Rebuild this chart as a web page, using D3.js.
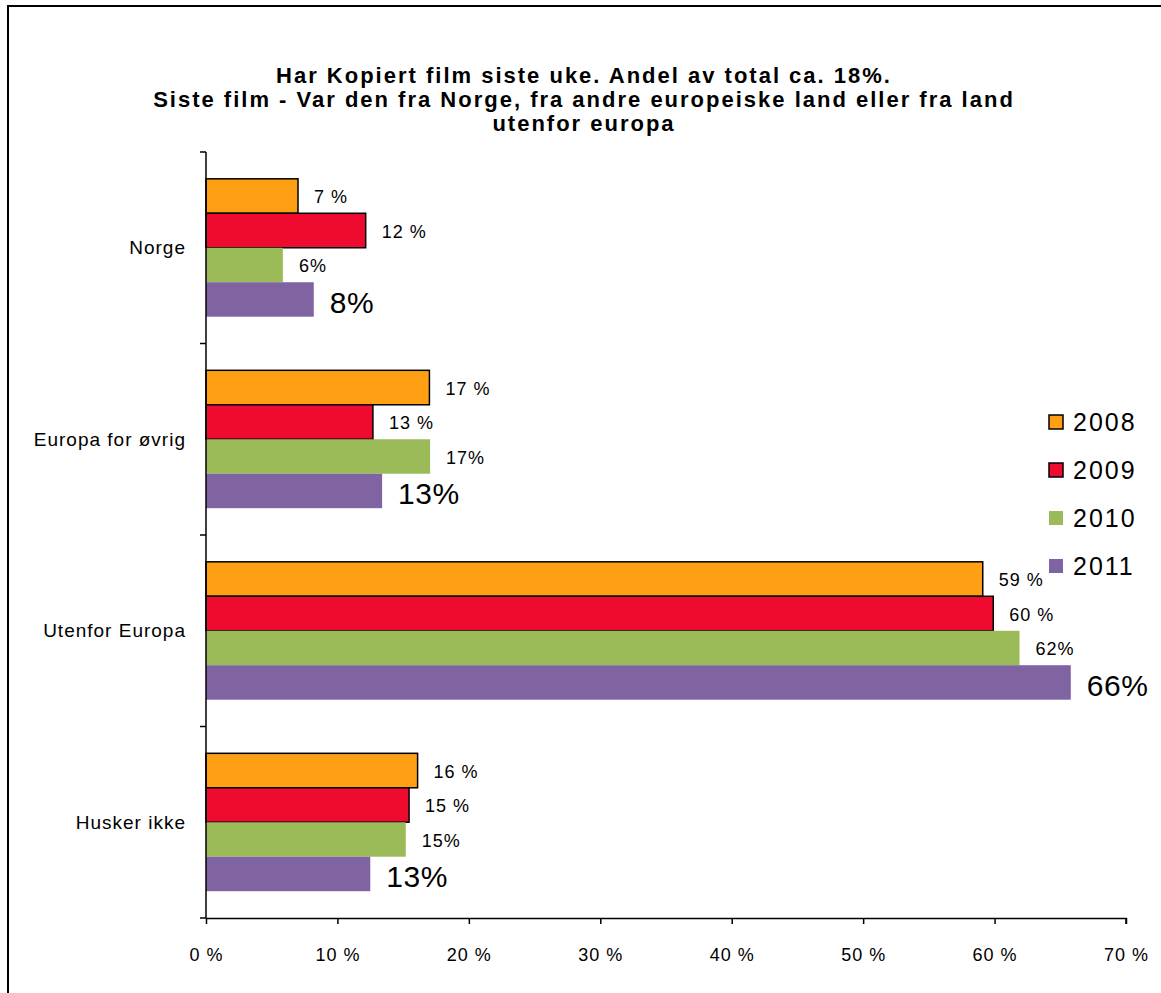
<!DOCTYPE html>
<html>
<head>
<meta charset="utf-8">
<script src="https://cdn.jsdelivr.net/npm/d3@7"></script>
<style>
  body { margin: 0; background: #fff; }
  svg text { font-family: "Liberation Sans", Arial, sans-serif; fill: #000; }
</style>
</head>
<body>
<div id="chart"></div>
<script>
///////////////////////////////////////////////////////////////////////////
////////////////////////////// Data ///////////////////////////////////////
///////////////////////////////////////////////////////////////////////////

var titleLines = ["Har Kopiert film siste uke. Andel av total ca. 18%.",
	"Siste film - Var den fra Norge, fra andre europeiske land eller fra land",
	"utenfor europa"];

var categories = ["Norge", "Europa for øvrig", "Utenfor Europa", "Husker ikke"],
	years = ["2008", "2009", "2010", "2011"];

//Percent per category, one array per year
var values2008 = [7.0, 17.0, 59.1, 16.1],
	values2009 = [12.15, 12.7, 59.9, 15.45],
	values2010 = [5.85, 17.05, 61.9, 15.2],
	values2011 = [8.2, 13.4, 65.8, 12.5];

var xTicks = [0, 10, 20, 30, 40, 50, 60, 70];

var yearColors = ["#FF9F14", "#EF0A2F", "#9BBB59", "#8064A2"],
	yearStroke = ["#000", "#000", "none", "none"];

var series = [values2008, values2009, values2010, values2011];

///////////////////////////////////////////////////////////////////////////
///////////////////////////// Set up //////////////////////////////////////
///////////////////////////////////////////////////////////////////////////

var width = 1161, height = 993,
	plotLeft = 206, plotRight = 1126,
	plotTop = 152, plotBottom = 918;

var svg = d3.select("#chart").append("svg")
	.attr("width", width)
	.attr("height", height);

//Outer frame
svg.append("rect")
	.attr("x", 8).attr("y", 6)
	.attr("width", 1300).attr("height", 1200)
	.style("fill", "none")
	.style("stroke", "#000")
	.style("stroke-width", 2);

var x = d3.scaleLinear().domain([0, 70]).range([plotLeft, plotRight]);

var y = d3.scaleBand().domain(categories)
	.range([plotTop, plotBottom])
	.paddingInner(0.28).paddingOuter(0.14);

var ySub = d3.scaleBand().domain(years).range([0, y.bandwidth()]);

//Title
svg.append("text")
	.attr("x", 584).attr("y", 83)
	.style("text-anchor", "middle")
	.style("font-weight", "bold")
	.style("font-size", "22px")
	.style("letter-spacing", "2px")
	.selectAll("tspan")
	.data(titleLines)
	.enter().append("tspan")
	.attr("x", 584)
	.attr("dy", function(d, i) { return i === 0 ? 0 : 24; })
	.text(function(d) { return d; });

///////////////////////////////////////////////////////////////////////////
////////////////////////////// Bars ///////////////////////////////////////
///////////////////////////////////////////////////////////////////////////

var groups = svg.selectAll(".yearGroup")
	.data(series)
	.enter().append("g")
	.attr("class", "yearGroup");

groups.selectAll("rect")
	.data(function(d, i) { return d.map(function(v, j) { return {v: v, cat: categories[j], yi: i}; }); })
	.enter().append("rect")
	.attr("x", x(0))
	.attr("y", function(d) { return y(d.cat) + ySub(years[d.yi]); })
	.attr("width", function(d) { return x(d.v) - x(0); })
	.attr("height", ySub.bandwidth())
	.style("fill", function(d) { return yearColors[d.yi]; })
	.style("stroke", function(d) { return yearStroke[d.yi]; })
	.style("stroke-width", 1.5);

//Value labels
groups.selectAll("text")
	.data(function(d, i) { return d.map(function(v, j) { return {v: v, cat: categories[j], yi: i}; }); })
	.enter().append("text")
	.attr("x", function(d) { return x(d.v) + 16; })
	.attr("y", function(d) { return y(d.cat) + ySub(years[d.yi]) + ySub.bandwidth() / 2 + (d.yi === 3 ? 3 : 1); })
	.attr("dy", ".35em")
	.style("font-size", function(d) { return d.yi === 3 ? "30px" : "18px"; })
	.style("letter-spacing", function(d) { return d.yi === 3 ? "0.5px" : "1px"; })
	.text(function(d) { return Math.round(d.v) + (d.yi < 2 ? " %" : "%"); });

///////////////////////////////////////////////////////////////////////////
////////////////////////////// Axes ///////////////////////////////////////
///////////////////////////////////////////////////////////////////////////

var xAxis = svg.append("g")
	.attr("transform", "translate(0," + plotBottom + ")")
	.call(d3.axisBottom(x).tickValues(xTicks).tickSize(6).tickPadding(24)
		.tickFormat(function(d) { return d + " %"; }));
xAxis.select(".domain").attr("d", "M" + plotLeft + ",0.5H" + plotRight + "V6")
	.style("stroke-width", 1.5);
xAxis.selectAll(".tick line").style("stroke-width", 1.5);
xAxis.selectAll("text")
	.style("font-size", "18px")
	.style("letter-spacing", "1px")
	.style("font-family", "'Liberation Sans', Arial, sans-serif");

//Y axis: line with ticks on the category boundaries
var yAxis = svg.append("g");
yAxis.append("line")
	.attr("x1", plotLeft).attr("x2", plotLeft)
	.attr("y1", plotTop).attr("y2", plotBottom)
	.style("stroke", "#000").style("stroke-width", 1.5);

var boundaries = categories.map(function(c) { return y(c) - y.step() * y.paddingInner() / 2; })
	.concat([plotBottom]);
yAxis.selectAll(".ytick")
	.data(boundaries)
	.enter().append("line")
	.attr("class", "ytick")
	.attr("x1", plotLeft - 6).attr("x2", plotLeft)
	.attr("y1", function(d) { return d; }).attr("y2", function(d) { return d; })
	.style("stroke", "#000").style("stroke-width", 1.5);

yAxis.selectAll(".ylabel")
	.data(categories)
	.enter().append("text")
	.attr("class", "ylabel")
	.attr("x", 186)
	.attr("y", function(d) { return y(d) + y.bandwidth() / 2; })
	.attr("dy", ".35em")
	.style("text-anchor", "end")
	.style("font-size", "19px")
	.style("letter-spacing", "1px")
	.text(function(d) { return d; });

///////////////////////////////////////////////////////////////////////////
///////////////////////////// Legend //////////////////////////////////////
///////////////////////////////////////////////////////////////////////////

var legend = svg.selectAll(".legendItem")
	.data(years)
	.enter().append("g")
	.attr("class", "legendItem")
	.attr("transform", function(d, i) { return "translate(1049," + (422 + i * 48) + ")"; });

legend.append("rect")
	.attr("x", 0).attr("y", -7)
	.attr("width", 14).attr("height", 14)
	.style("fill", function(d, i) { return yearColors[i]; })
	.style("stroke", function(d, i) { return yearStroke[i]; })
	.style("stroke-width", 1.5);

legend.append("text")
	.attr("x", 24).attr("y", 0)
	.attr("dy", ".36em")
	.style("font-size", "25px")
	.style("letter-spacing", "2px")
	.text(function(d) { return d; });
</script>
</body>
</html>
